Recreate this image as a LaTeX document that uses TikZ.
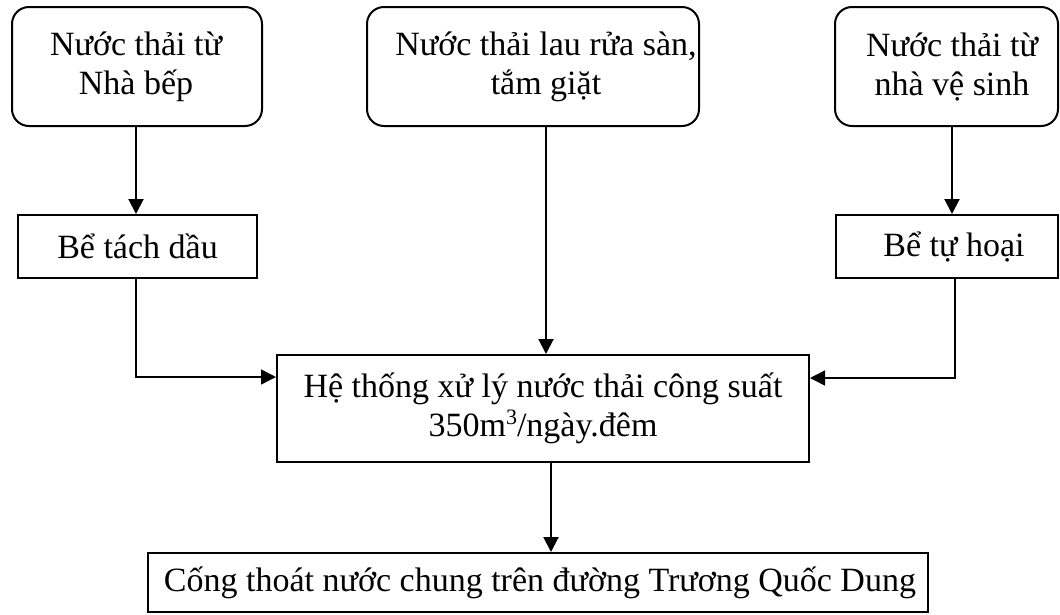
\documentclass[tikz,border=0pt]{standalone}
\usepackage{fontspec}
\setmainfont{Liberation Serif}
\usetikzlibrary{arrows.meta,calc}
\newcommand{\supthree}{\raisebox{12pt}{\fontsize{22}{22}\selectfont 3}}
\begin{document}
\begin{tikzpicture}[x=1pt,y=-1pt,
  font=\fontsize{34}{39}\selectfont,
  rbox/.style={draw,line width=2pt,rounded corners=17pt,inner sep=0pt},
  sbox/.style={draw,line width=2pt,inner sep=0pt},
  txt/.style={align=center,inner sep=0pt},
  arr/.style={line width=2pt,-{Triangle[length=15pt,width=15pt]}},
  arrthin/.style={line width=1.5pt,-{Triangle[length=15pt,width=15pt]}}]
\useasboundingbox (0,0) rectangle (1060,614);
% top boxes
\node[rbox,minimum width=250pt,minimum height=119pt] (A) at (137,66.5) {};
\node[txt] (At) at (136,66.5) {Nước thải từ\\Nhà bếp};
\node[rbox,minimum width=332pt,minimum height=119pt] (B) at (533,66.5) {};
\node[txt] (Bt) at (546,66.5) {Nước thải lau rửa sàn,\\tắm giặt};
\node[rbox,minimum width=223pt,minimum height=119pt] (C) at (946.5,66.5) {};
\node[txt] (Ct) at (952,66.5) {Nước thải từ\\nhà vệ sinh};
% middle row
\node[sbox,minimum width=239pt,minimum height=63pt] (D) at (137.5,246.5) {};
\node[txt] (Dt) at (137.5,246.5) {Bể tách dầu};
\node[sbox,minimum width=222pt,minimum height=63pt] (E) at (947,246.5) {};
\node[txt] (Et) at (954,246.5) {Bể tự hoại};
% treatment
\node[sbox,minimum width=532pt,minimum height=107pt] (F) at (543,408.5) {};
\node[txt] (Ft) at (543,408.5) {Hệ thống xử lý nước thải công suất\\350m\supthree/ngày.đêm};
% bottom
\node[sbox,minimum width=780pt,minimum height=59pt] (G) at (538,582.5) {};
\node[txt] (Gt) at (540,582.5) {Cống thoát nước chung trên đường Trương Quốc Dung};
% connectors
\draw[arr] ([xshift=-1pt]A.south) -- ([xshift=-1.5pt]D.north);
\draw[arr] ([xshift=5.5pt]C.south) -- ([xshift=5pt]E.north);
\draw[arr] ([xshift=13pt]B.south) -- ([xshift=13pt]B.south |- F.north);
\draw[arrthin] ([xshift=-1.5pt]D.south) |- ([yshift=31.5pt]F.west);
\draw[arrthin] ([xshift=8pt]E.south) |- ([yshift=30.5pt]F.east);
\draw[arr] ([xshift=8pt]F.south) -- ([xshift=8pt]F.south |- G.north);
\end{tikzpicture}
\end{document}
